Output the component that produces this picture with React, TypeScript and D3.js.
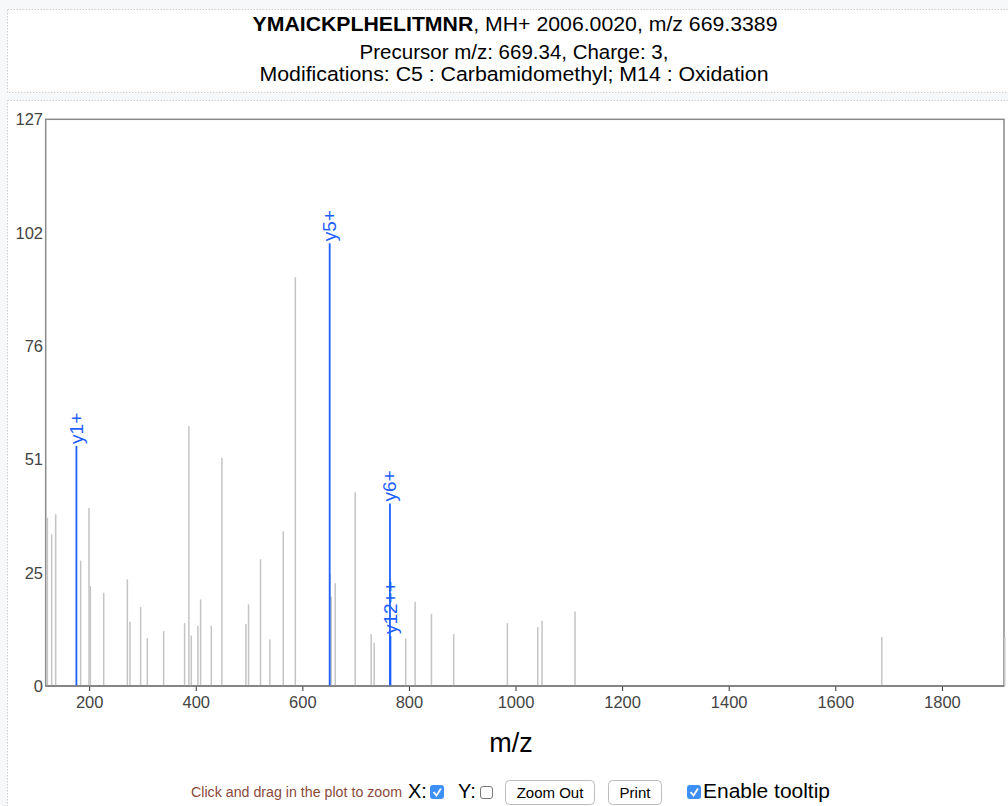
import React from "react";
import * as d3 from "d3";

// ---- data ----
const peakMz = [120.7, 128.7, 136.2, 183.1, 198.7, 201.3, 226.3, 270.7, 275.6, 295.6, 308.2, 338.8, 378.1, 386.2, 390.7, 403.1, 408.1, 428.2, 448.1, 493.1, 498.1, 520.6, 538.1, 563.2, 585.9, 650.9, 653.2, 660.7, 698.2, 728.2, 733.8, 793.0, 810.7, 841.3, 883.0, 983.8, 1040.7, 1048.8, 1110.7, 1686.3, 1917.0];
const peakInt = [37.7, 34.0, 38.5, 28.1, 39.9, 22.4, 20.9, 23.9, 14.4, 17.7, 10.7, 12.3, 14.1, 58.2, 11.3, 13.5, 19.4, 13.5, 51.1, 13.9, 18.3, 28.4, 10.4, 34.7, 91.6, 25.1, 20.0, 23.0, 43.4, 11.6, 9.7, 10.7, 18.9, 16.2, 11.6, 14.1, 13.2, 14.6, 16.7, 11.0, 11.0];

const ionLabels = ["y1+", "y5+", "y6+", "y12++"];
const ionMz = [175.12, 650.33, 763.41, 764.39];
const ionInt = [53.8, 99.2, 40.9, 11.2];

const xTicks = [200, 400, 600, 800, 1000, 1200, 1400, 1600, 1800];
const yTicks = [0, 25.4, 50.8, 76.2, 101.6, 127];
const yTickLabels = ["0", "25", "51", "76", "102", "127"];

const FONT = "'Liberation Sans', Arial, Helvetica, sans-serif";

export default function App() {
  const left = 45.7, right = 1004, top = 119.3, bottom = 686;
  const x = d3.scaleLinear().domain([117.5, 1915.6]).range([left, right]);
  const y = d3.scaleLinear().domain([0, 127]).range([bottom, top]);
  const gray = "#c4c4c4";
  const blue = "#1f5fff";

  return (
    <svg width={1008} height={806} style={{ position: "absolute", left: 0, top: 0, background: "#f6f8fa" }} fontFamily={FONT}>
      {/* title box */}
      <rect x={7.5} y={9.5} width={1010} height={83} fill="#ffffff" stroke="#cfcfcf" strokeDasharray="1.5,1.5" />
      {/* plot container */}
      <rect x={7.5} y={100.5} width={1010} height={720} fill="#ffffff" stroke="#cfcfcf" strokeDasharray="1.5,1.5" />

      <text x={515} y={31} textAnchor="middle" fontSize={21} fill="#000" textLength={525} lengthAdjust="spacingAndGlyphs">
        <tspan fontWeight="bold">YMAICKPLHELITMNR</tspan>
        <tspan>, MH+ 2006.0020, m/z 669.3389</tspan>
      </text>
      <text x={514} y={59} textAnchor="middle" fontSize={20.5} fill="#000">Precursor m/z: 669.34, Charge: 3,</text>
      <text x={514} y={81} textAnchor="middle" fontSize={20.5} fill="#000" textLength={509} lengthAdjust="spacingAndGlyphs">Modifications: C5 : Carbamidomethyl; M14 : Oxidation</text>

      {/* plot frame */}
      <rect x={left} y={top} width={right - left} height={bottom - top} fill="#fff" stroke="#8a8a8a" strokeWidth={1.5} />

      {/* y tick labels */}
      {yTicks.map((t, i) => (
        <text key={"yt" + i} x={43} y={y(t) + 6} textAnchor="end" fontSize={16.5} fill="#444">{yTickLabels[i]}</text>
      ))}
      {/* x ticks */}
      {xTicks.map((t) => (
        <g key={"xt" + t}>
          <line x1={x(t)} x2={x(t)} y1={bottom} y2={bottom + 5} stroke="#333" strokeWidth={1} />
          <text x={x(t)} y={bottom + 22} textAnchor="middle" fontSize={16.5} fill="#444">{t}</text>
        </g>
      ))}

      {/* unannotated peaks */}
      {peakMz.map((m, i) => (
        <line key={"p" + i} x1={x(m)} x2={x(m)} y1={y(0)} y2={y(peakInt[i])} stroke={gray} strokeWidth={1.5} />
      ))}
      {/* annotated peaks */}
      {ionMz.map((m, i) => (
        <g key={"ion" + i}>
          <line x1={x(m)} x2={x(m)} y1={y(0)} y2={y(ionInt[i])} stroke={blue} strokeWidth={1.8} />
          <text transform={`translate(${x(m) + 6.5},${y(ionInt[i]) - 2}) rotate(-90)`} fontSize={19} fill={blue}>{ionLabels[i]}</text>
        </g>
      ))}
      {/* bottom axis line */}
      <line x1={left} x2={right} y1={bottom} y2={bottom} stroke="#7a7a7a" strokeWidth={1.5} />

      <text x={511} y={752} textAnchor="middle" fontSize={27} fill="#000">m/z</text>

      {/* controls */}
      <text x={191} y={797} fontSize={14} fill="#8b4a3a" textLength={211} lengthAdjust="spacingAndGlyphs">Click and drag in the plot to zoom</text>
      <text x={408} y={798} fontSize={20} fill="#000">X:</text>
      <rect x={430} y={785} width={14} height={14} rx={3} fill="#3b8ff5" />
      <path d="M433.5,792 L436.5,795.5 L441,788.5" fill="none" stroke="#fff" strokeWidth={1.8} />
      <text x={458} y={798} fontSize={20} fill="#000">Y:</text>
      <rect x={480.5} y={786.5} width={12} height={12} rx={2.5} fill="#fff" stroke="#777" />
      <rect x={505.5} y={780.5} width={89} height={24} rx={4} fill="#fff" stroke="#bdbdbd" />
      <text x={550} y={798} textAnchor="middle" fontSize={15} fill="#000">Zoom Out</text>
      <rect x={608.5} y={780.5} width={53} height={24} rx={4} fill="#fff" stroke="#bdbdbd" />
      <text x={635} y={798} textAnchor="middle" fontSize={15} fill="#000">Print</text>
      <rect x={687} y={785} width={14} height={14} rx={3} fill="#3b8ff5" />
      <path d="M690.5,792 L693.5,795.5 L698,788.5" fill="none" stroke="#fff" strokeWidth={1.8} />
      <text x={703} y={798} fontSize={20.5} fill="#000" textLength={127} lengthAdjust="spacingAndGlyphs">Enable tooltip</text>
    </svg>
  );
}
